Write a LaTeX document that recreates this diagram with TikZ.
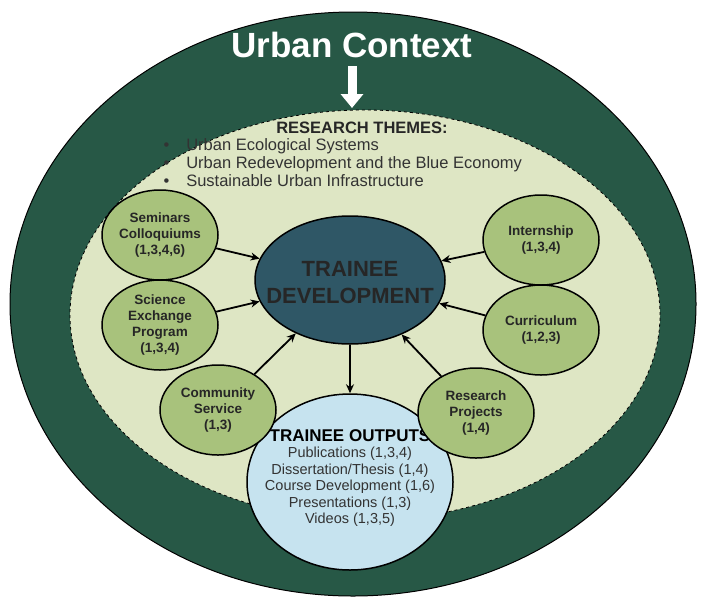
\documentclass[tikz,border=0pt]{standalone}
\usepackage{fontspec}
\setmainfont{Liberation Sans}
\usetikzlibrary{shapes.geometric,arrows.meta}
\definecolor{dgreen}{HTML}{275846}
\definecolor{lgreen}{HTML}{DEE6C4}
\definecolor{mgreen}{HTML}{A8C27C}
\definecolor{dblue}{HTML}{2F5766}
\definecolor{lblue}{HTML}{C6E3EF}
\begin{document}
\begin{tikzpicture}[x=1pt,y=-1pt,
 act/.style={ellipse,draw=black,line width=1.5pt,fill=mgreen,minimum width=116pt,minimum height=90pt,inner sep=0pt},
 lbl/.style={align=center,font=\bfseries\fontsize{13.5}{16}\selectfont,text=black!85},
 arr/.style={-{Stealth[length=9pt,width=8pt]},line width=1.8pt}]
\useasboundingbox (0,0) rectangle (711,600);
\fill[white] (0,0) rectangle (711,600);
\node[ellipse,draw=black,line width=1pt,fill=dgreen,minimum width=686pt,minimum height=584pt] (outer) at (353,304) {};
\node[ellipse,draw=black,dashed,line width=0.8pt,fill=lgreen,minimum width=590pt,minimum height=410pt] (inner) at (365,315) {};
\node[text=white,font=\bfseries\fontsize{35}{40}\selectfont] (title) at (352,45) {Urban Context};
\coordinate (ta) at (352,66);
\coordinate (tb) at (352,108);
\draw[-{Triangle[length=14pt,width=22pt]},line width=9pt,white] (ta) -- (tb);
\node[font=\bfseries\fontsize{16.5}{18}\selectfont,text=black!85] (rt) at (362,128) {RESEARCH THEMES:};
\node[anchor=north west,align=left,font=\fontsize{16.5}{18}\selectfont,text=black!80] (list) at (160,135)
 {\textbullet\hspace{17pt}Urban Ecological Systems\\ \textbullet\hspace{17pt}Urban Redevelopment and the Blue Economy\\ \textbullet\hspace{17pt}Sustainable Urban Infrastructure};
\node[ellipse,draw=black,line width=1.5pt,fill=dblue,minimum width=190pt,minimum height=128pt,inner sep=0pt] (td) at (350,280) {};
\node[align=center,font=\bfseries\fontsize{22}{27}\selectfont,text=black!85] (tdl) at (350,283) {TRAINEE\\DEVELOPMENT};
\node[ellipse,draw=black,line width=1.5pt,fill=lblue,minimum width=206pt,minimum height=176pt,inner sep=0pt] (to) at (350,482) {};
\node[align=center,text=black!80,font=\fontsize{14.5}{16.5}\selectfont] (tol) at (350,478)
 {\textcolor{black}{\bfseries\fontsize{17}{20}\selectfont TRAINEE OUTPUTS}\\Publications (1,3,4)\\Dissertation/Thesis (1,4)\\Course Development (1,6)\\Presentations (1,3)\\Videos (1,3,5)};
\node[act] (sem) at (160,235) {};
\node[lbl] at (160,235) {Seminars\\Colloquiums\\(1,3,4,6)};
\node[act] (int) at (541,240) {};
\node[lbl] at (541,240) {Internship\\(1,3,4)};
\node[act] (sci) at (160,325) {};
\node[lbl] at (160,325) {Science\\Exchange\\Program\\(1,3,4)};
\node[act] (cur) at (541,330) {};
\node[lbl] at (541,330) {Curriculum\\(1,2,3)};
\node[act] (com) at (218,410) {};
\node[lbl] at (218,410) {Community\\Service\\(1,3)};
\node[act] (res) at (476,413) {};
\node[lbl] at (476,413) {Research\\Projects\\(1,4)};
\draw[arr] (sem) -- (td);
\draw[arr] (int) -- (td);
\draw[arr] (sci) -- (td);
\draw[arr] (cur) -- (td);
\draw[arr] (com) -- (td);
\draw[arr] (res) -- (td);
\draw[arr] (td) -- (to);
\end{tikzpicture}
\end{document}
